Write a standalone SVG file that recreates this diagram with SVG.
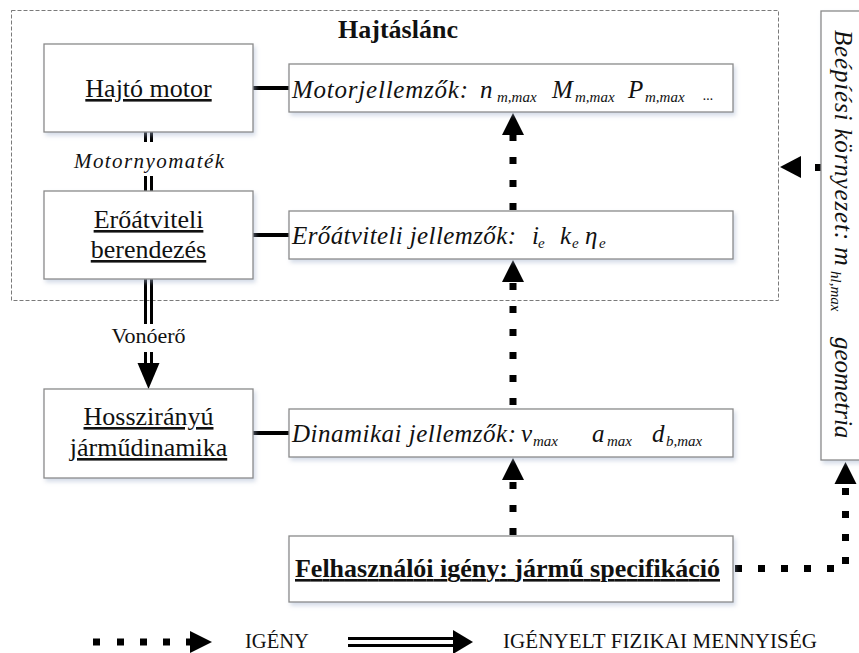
<svg xmlns="http://www.w3.org/2000/svg" xmlns:xlink="http://www.w3.org/1999/xlink" width="859" height="653" viewBox="0 0 859 653" font-family="Liberation Serif, DejaVu Serif, serif">
<style>
  .box { fill: #fff; stroke: #8a8a8a; stroke-width: 1.3; filter: url(#sh); }
  text { font-family: "Liberation Serif", "DejaVu Serif", serif; fill: #111; }
  .it { font-style: italic; }
  .b { font-weight: bold; }
  .u { text-decoration: underline; }
  .thick { stroke: #000; stroke-width: 4; fill: none; }
  .dbl { stroke: #000; stroke-width: 3; fill: none; }
  .dot { stroke: #000; stroke-width: 7; fill: none; stroke-dasharray: 7 16; }
  .head { fill: #000; }
</style>
<defs>
  <filter id="sh" x="-10%" y="-20%" width="125%" height="150%">
    <feDropShadow dx="2" dy="3" stdDeviation="2" flood-color="#9fb0cc" flood-opacity="0.45"/>
  </filter>
  <path id="tri" d="M0,0 L-11,22 L11,22 Z"/>
</defs>

<g id="hajtaslanc">
  <rect x="11.5" y="10.5" width="767" height="290" fill="none" stroke="#7a7a7a" stroke-width="1" stroke-dasharray="4 2"/>
  <text class="b" x="338" y="38" font-size="26" textLength="120">Hajtáslánc</text>
</g>

<g id="connectors">
  <line class="thick" x1="253" y1="88" x2="289" y2="88"/>
  <line class="thick" x1="253" y1="235" x2="289" y2="235"/>
  <line class="thick" x1="253" y1="433" x2="289" y2="433"/>
  <path class="dbl" d="M145.5,132 V142 M151.5,132 V142 M145.5,176 V191 M151.5,176 V191"/>
  <path class="dbl" d="M145.5,279 V324 M151.5,279 V324 M145.5,352 V365 M151.5,352 V365"/>
  <path class="head" d="M137.5,363 L159.5,363 L148.5,389 Z"/>
  <use xlink:href="#tri" class="head" x="513" y="113"/>
  <line class="dot" x1="513" y1="134" x2="513" y2="211"/>
  <use xlink:href="#tri" class="head" x="513" y="260"/>
  <line class="dot" x1="513" y1="283" x2="513" y2="409"/>
  <use xlink:href="#tri" class="head" x="513" y="458"/>
  <line class="dot" x1="513" y1="482" x2="513" y2="536"/>
  <path class="dot" d="M735,568.5 H845.5 V483"/>
  <use xlink:href="#tri" class="head" x="845.5" y="462"/>
  <rect x="815" y="164" width="6" height="7" fill="#000"/>
  <path class="head" d="M780,167 L801,156 L801,178 Z"/>
</g>

<g id="hajto-motor">
  <rect class="box" x="44" y="44" width="209" height="88"/>
  <text class="u" x="148.5" y="97" font-size="26" text-anchor="middle">Hajtó motor</text>
</g>
<g id="motornyomatek">
  <text class="it" x="74" y="168" font-size="21" textLength="150">Motornyomaték</text>
</g>
<g id="eroatviteli">
  <rect class="box" x="44" y="191" width="209" height="88"/>
  <text class="u" x="148.5" y="228" font-size="26" text-anchor="middle">Erőátviteli</text>
  <text class="u" x="148.5" y="258" font-size="26" text-anchor="middle">berendezés</text>
</g>
<g id="vonoero">
  <text x="148.5" y="343" font-size="22" text-anchor="middle">Vonóerő</text>
</g>
<g id="hosszirany">
  <rect class="box" x="44" y="389" width="209" height="89"/>
  <text class="u" x="148.5" y="425" font-size="26" text-anchor="middle">Hosszirányú</text>
  <text class="u" x="148.5" y="456" font-size="26" text-anchor="middle">járműdinamika</text>
</g>

<g id="motorjellemzok">
  <rect class="box" x="289" y="64" width="444" height="48"/>
  <text class="it" x="292" y="98" font-size="25" textLength="176">Motorjellemzők:</text>
  <text class="it" y="98" font-size="25"><tspan x="480">n</tspan><tspan x="497" dy="4" font-size="15">m,max</tspan></text>
  <text class="it" y="98" font-size="25"><tspan x="552">M</tspan><tspan x="575" dy="4" font-size="15">m,max</tspan></text>
  <text class="it" y="98" font-size="25"><tspan x="628">P</tspan><tspan x="645" dy="4" font-size="15">m,max</tspan></text>
  <text class="it" x="703" y="100" font-size="14">...</text>
</g>
<g id="eroatviteli-jellemzok">
  <rect class="box" x="289" y="211" width="444" height="48"/>
  <text class="it" x="292" y="244" font-size="25" textLength="224">Erőátviteli jellemzők:</text>
  <text class="it" y="244" font-size="25"><tspan x="532">i</tspan><tspan x="538" dy="4" font-size="15">e</tspan></text>
  <text class="it" y="244" font-size="25"><tspan x="560">k</tspan><tspan x="572" dy="4" font-size="15">e</tspan></text>
  <text class="it" y="244" font-size="25"><tspan x="585">η</tspan><tspan x="599" dy="4" font-size="15">e</tspan></text>
</g>
<g id="dinamikai-jellemzok">
  <rect class="box" x="289" y="409" width="444" height="48"/>
  <text class="it" x="292" y="442" font-size="25" textLength="224">Dinamikai jellemzők:</text>
  <text class="it" y="442" font-size="25"><tspan x="521">v</tspan><tspan x="533" dy="4" font-size="15">max</tspan></text>
  <text class="it" y="442" font-size="25"><tspan x="592">a</tspan><tspan x="607" dy="4" font-size="15">max</tspan></text>
  <text class="it" y="442" font-size="25"><tspan x="652">d</tspan><tspan x="666" dy="4" font-size="15">b,max</tspan></text>
</g>
<g id="felhasznaloi">
  <rect class="box" x="289" y="536" width="444" height="66"/>
  <text class="b u" x="295" y="577" font-size="26" textLength="425">Felhasználói igény: jármű specifikáció</text>
</g>
<g id="beepitesi">
  <rect class="box" x="821" y="11" width="50" height="449"/>
  <g transform="translate(835,30) rotate(90)">
    <text class="it" x="0" y="0" font-size="25" textLength="210">Beépíési környezet:</text>
    <text class="it" y="0" font-size="26"><tspan x="217">m</tspan><tspan x="241" dy="4" font-size="15">hl,max</tspan></text>
    <text class="it" x="307" y="0" font-size="25">geometria</text>
  </g>
</g>

<g id="legend">
  <g fill="#000">
    <rect x="93" y="638.5" width="7" height="7"/>
    <rect x="117" y="638.5" width="7" height="7"/>
    <rect x="140" y="638.5" width="7" height="7"/>
    <rect x="163" y="638.5" width="7" height="7"/>
    <rect x="186" y="638.5" width="7" height="7"/>
    <path d="M190,631 L212,642 L190,653 Z"/>
  </g>
  <text x="245" y="648" font-size="20.5">IGÉNY</text>
  <path class="dbl" d="M348,638.5 H456 M348,645.5 H456"/>
  <path class="head" d="M453,630 L473,642 L453,654 Z"/>
  <text x="503" y="648" font-size="21" textLength="314">IGÉNYELT FIZIKAI MENNYISÉG</text>
</g>
</svg>
